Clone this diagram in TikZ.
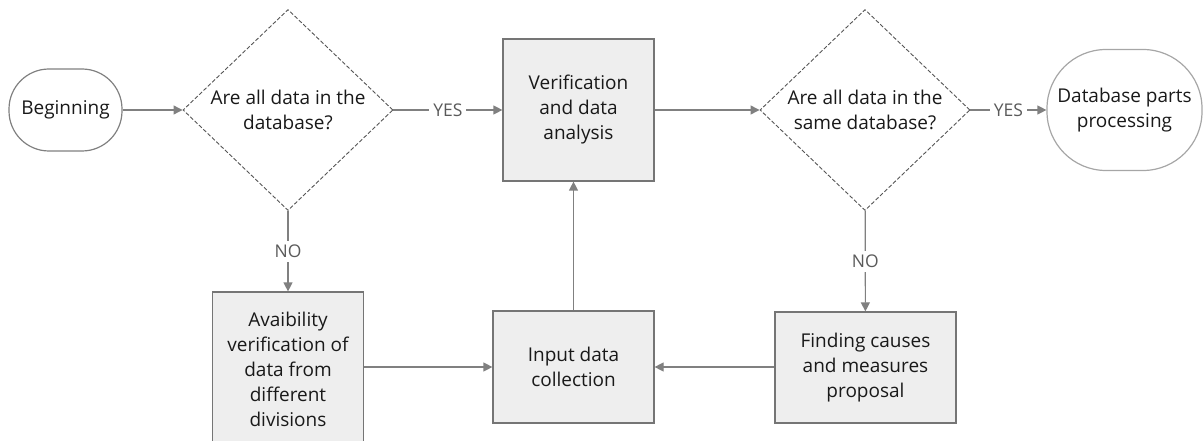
\documentclass[tikz,border=0pt]{standalone}
\usepackage{fontspec}
\setmainfont{Open Sans}
\usepackage{tikz}
\usetikzlibrary{arrows.meta}
\usetikzlibrary{shapes.geometric}
\usetikzlibrary{positioning,calc}
\definecolor{linegray}{HTML}{808080}
\definecolor{boxgray}{HTML}{757575}
\definecolor{boxfill}{HTML}{EEEEEE}
\definecolor{dashgray}{HTML}{555555}
\definecolor{labelgray}{HTML}{5A5A5A}
\tikzstyle{stepbox}=[rectangle,draw=boxgray,fill=boxfill,line width=1.2pt,align=center,inner sep=0pt]
\tikzstyle{decision}=[diamond,draw=dashgray,dash pattern=on 4pt off 2pt,line width=0.9pt,fill=white,
                align=center,minimum width=210pt,minimum height=201pt,inner sep=0pt]
\tikzstyle{terminal}=[rectangle,line width=1.2pt,align=center,inner sep=0pt]
\tikzstyle{flow}=[draw=linegray,line width=1.2pt,-{Triangle[length=9pt,width=9pt]}]
\tikzstyle{answer}=[fill=white,text=labelgray,inner sep=4pt,font=\fontsize{17.5}{25}\selectfont]

\begin{document}
\begin{tikzpicture}[x=1pt,y=-1pt,every node/.style={font=\fontsize{19}{25}\selectfont,text=black!90}]
\useasboundingbox (0,0) rectangle (1203,441);
% top row
\node[terminal,draw=linegray,rounded corners=40pt,minimum width=113pt,minimum height=82pt] (begin) at (65.5,110) {Beginning};
\node[decision] (dec1) at (288,110) {Are all data in the\\database?};
\node[stepbox,minimum width=151pt,minimum height=142pt] (verif) at (578.5,110) {Verification\\and data\\analysis};
\node[decision] (dec2) at (865,110) {Are all data in the\\same database?};
\node[terminal,draw=black!35,rounded corners=59pt,minimum width=155pt,minimum height=121pt] (dbparts) at (1124.5,110) {Database parts\\processing};
% bottom row
\node[stepbox,minimum width=151pt,minimum height=154pt] (avail) at (288,369) {Avaibility\\verification of\\data from\\different\\divisions};
\node[stepbox,minimum width=161pt,minimum height=112pt] (input) at (573.5,367) {Input data\\collection};
\node[stepbox,minimum width=181pt,minimum height=111pt] (finding) at (865.5,367.5) {Finding causes\\and measures\\proposal};
% connectors
\draw[flow] (begin) -- (dec1);
\draw[flow] (dec1) -- node[answer]{YES} (verif);
\draw[flow] (verif) -- (dec2);
\draw[flow] (dec2) -- node[answer]{YES} (dbparts);
\draw[flow] (dec1) -- node[answer]{NO} (avail);
\draw[flow] (dec2) -- node[answer]{NO} (finding);
\draw[flow] (avail.east |- input.west) -- (input.west);
\draw[flow] (finding.west |- input.east) -- (input.east);
\draw[flow] (input.north) -- (input.north |- verif.south);
\end{tikzpicture}
\end{document}
